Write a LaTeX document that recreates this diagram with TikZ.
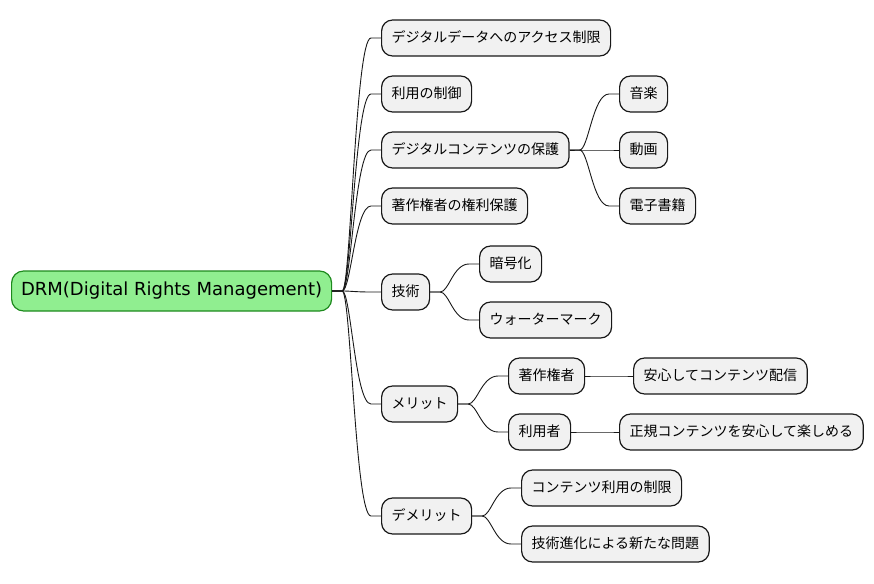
\documentclass[tikz,border=0pt]{standalone}
\usepackage{fontspec}
\setmainfont{DejaVu Sans}
\newfontfamily\jp{Noto Sans CJK JP}
\usetikzlibrary{calc}
\definecolor{nodefill}{HTML}{F1F1F1}
\definecolor{nodeline}{HTML}{181818}
\definecolor{rootfill}{HTML}{90EE90}
\definecolor{rootline}{HTML}{1E8A1E}
\tikzset{
  mmnode/.style={draw=nodeline, fill=nodefill, line width=1.2pt, rounded corners=11pt,
    anchor=west, minimum height=36pt, inner xsep=10pt, inner ysep=0pt,
    font=\jp\fontsize{14}{16}\selectfont, text height=11pt, text depth=2pt},
  rootnode/.style={draw=rootline, fill=rootfill, line width=1.2pt, rounded corners=12pt,
    anchor=west, minimum height=40pt, minimum width=320pt, inner xsep=0pt, inner ysep=0pt,
    font=\fontsize{18}{21}\selectfont, text height=13pt, text depth=4pt},
  conn/.style={draw=nodeline, line width=0.9pt}
}
\newcommand{\mmconn}[2]{%
  \draw[conn] let \p1=(#1.east), \p2=(#2.west) in
    (\p1) -- ({\x1+10pt},\y1)
    .. controls ({\x1+10pt+0.3*(\x2-\x1-20pt)},\y1) and ({\x1+10pt+0.45*(\x2-\x1-20pt)},\y2)
    .. ({\x2-10pt},\y2) -- (\p2);}
\begin{document}
\begin{tikzpicture}[x=1pt,y=-1pt]
\useasboundingbox (0,0) rectangle (874,583);
\node[rootnode] (root) at (11,291) {DRM(Digital Rights Management)};
\node[mmnode] (a1) at (381,38) {デジタルデータへのアクセス制限};
\node[mmnode] (a2) at (381,94) {利用の制御};
\node[mmnode] (a3) at (381,150) {デジタルコンテンツの保護};
\node[mmnode] (a4) at (381,206) {著作権者の権利保護};
\node[mmnode] (a5) at (381,292) {技術};
\node[mmnode] (a6) at (381,404) {メリット};
\node[mmnode] (a7) at (381,516) {デメリット};
\node[mmnode] (b1) at (619,94) {音楽};
\node[mmnode] (b2) at (619,150) {動画};
\node[mmnode] (b3) at (619,206) {電子書籍};
\node[mmnode] (c1) at (479,264) {暗号化};
\node[mmnode] (c2) at (479,320) {ウォーターマーク};
\node[mmnode] (d1) at (508,376) {著作権者};
\node[mmnode] (d2) at (508,432) {利用者};
\node[mmnode] (e1) at (633,376) {安心してコンテンツ配信};
\node[mmnode] (e2) at (619,432) {正規コンテンツを安心して楽しめる};
\node[mmnode] (f1) at (521,488) {コンテンツ利用の制限};
\node[mmnode] (f2) at (521,544) {技術進化による新たな問題};
\foreach \c in {a1,a2,a3,a4,a5,a6,a7} {\mmconn{root}{\c}}
\foreach \c in {b1,b2,b3} {\mmconn{a3}{\c}}
\foreach \c in {c1,c2} {\mmconn{a5}{\c}}
\foreach \c in {d1,d2} {\mmconn{a6}{\c}}
\mmconn{d1}{e1}
\mmconn{d2}{e2}
\foreach \c in {f1,f2} {\mmconn{a7}{\c}}
\end{tikzpicture}
\end{document}
